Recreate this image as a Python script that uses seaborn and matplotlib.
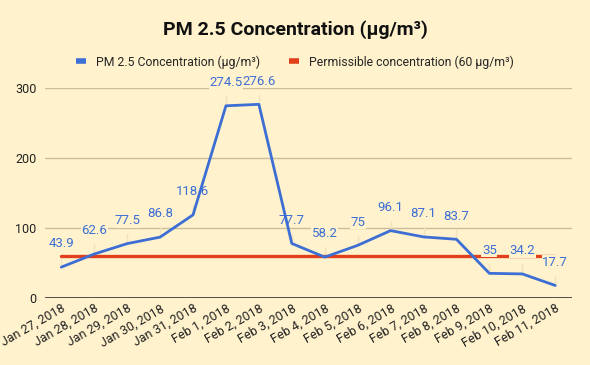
import pandas as pd
import matplotlib
matplotlib.use("Agg")
import matplotlib.pyplot as plt
import seaborn as sns

# Data
dates = ["Jan 27, 2018", "Jan 28, 2018", "Jan 29, 2018", "Jan 30, 2018",
         "Jan 31, 2018", "Feb 1, 2018", "Feb 2, 2018", "Feb 3, 2018",
         "Feb 4, 2018", "Feb 5, 2018", "Feb 6, 2018", "Feb 7, 2018",
         "Feb 8, 2018", "Feb 9, 2018", "Feb 10, 2018", "Feb 11, 2018"]
pm25 = [43.9, 62.6, 77.5, 86.8, 118.6, 274.5, 276.6, 77.7,
        58.2, 75, 96.1, 87.1, 83.7, 35, 34.2, 17.7]
permissible = [60] * len(dates)
y_ticks = [0, 100, 200, 300]

BG = "#fff2cc"
BLUE = "#3c6ed4"
RED = "#e2401c"

sns.set_theme(style="white")
plt.rcParams["font.family"] = ["Roboto", "DejaVu Sans"]

df = pd.DataFrame({"date": dates, "pm": pm25, "limit": permissible})
df["pos"] = range(len(df))

fig = plt.figure(figsize=(5.9, 3.65), dpi=100, facecolor=BG)
ax = fig.add_axes([0.076, 0.184, 0.893, 0.575])
ax.set_facecolor(BG)

# gridlines
for t in y_ticks[1:]:
    ax.axhline(t, color="#c9bf9f", lw=1, zorder=0)
ax.axhline(0, color="#333333", lw=1.2, zorder=1)

sns.lineplot(data=df, x="pos", y="limit", ax=ax, color=RED, lw=2.4,
             label="Permissible concentration (60 µg/m³)", zorder=2)
sns.lineplot(data=df, x="pos", y="pm", ax=ax, color=BLUE, lw=2,
             label="PM 2.5 Concentration (µg/m³)", zorder=4)

# data labels with stems (labels sit above the red line, below the blue one)
for x, v in zip(df["pos"], df["pm"]):
    ax.plot([x, x], [v, v + 14], color="#efe2bd", lw=1, zorder=1)
    ax.annotate(f"{v:g}", (x, v), xytext=(0, 12), textcoords="offset points",
                ha="center", va="bottom", fontsize=9.5, color=BLUE, zorder=3,
                bbox=dict(boxstyle="square,pad=0.05", fc=BG, ec="none"))

ax.set_xlim(-0.5, len(dates) - 0.5)
ax.set_ylim(0, 300)
ax.set_yticks(y_ticks)
ax.set_xticks(df["pos"])
ax.set_xticklabels(dates, rotation=30, ha="right", rotation_mode="anchor",
                   fontsize=9, color="#222222")
ax.tick_params(axis="y", labelsize=9, colors="#222222", length=0, pad=6)
ax.tick_params(axis="x", length=0, pad=3)
ax.set_xlabel("")
ax.set_ylabel("")
for s in ax.spines.values():
    s.set_visible(False)

handles, labels = ax.get_legend_handles_labels()
ax.legend(handles[::-1], labels[::-1], loc="center", bbox_to_anchor=(0.5, 0.83),
          bbox_transform=fig.transFigure, ncol=2, frameon=False, fontsize=8.8,
          handlelength=0.8, handletextpad=0.8, columnspacing=2.4)
for line in ax.get_legend().get_lines():
    line.set_linewidth(4)
    line.set_solid_capstyle("butt")

fig.text(0.5, 0.918, "PM 2.5 Concentration (µg/m³)", ha="center", va="center",
         fontsize=14, fontweight="bold", color="#111111")

fig.savefig("out.png", dpi=100, facecolor=BG)
